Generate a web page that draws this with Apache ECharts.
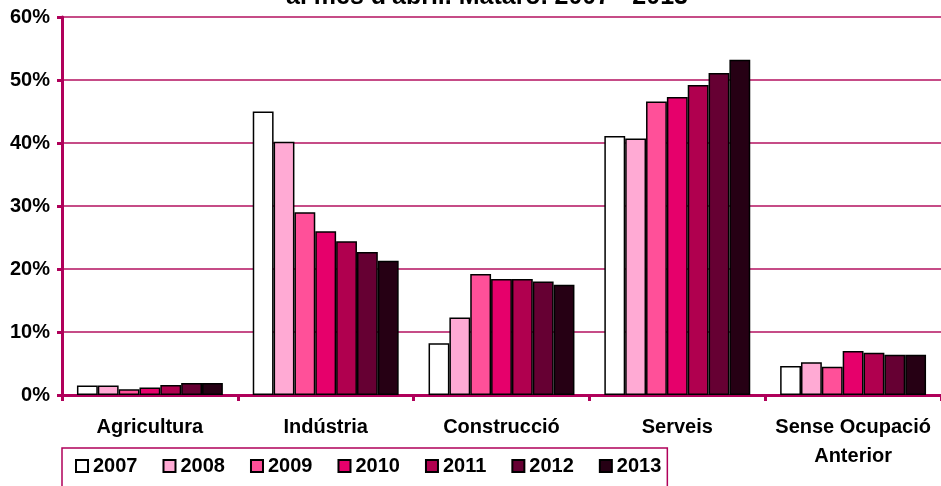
<!DOCTYPE html>
<html>
<head>
<meta charset="utf-8">
<script src="https://cdn.jsdelivr.net/npm/echarts@6/dist/echarts.min.js"></script>
<style>
  html, body { margin: 0; padding: 0; background: #fff; }
  #chart { width: 941px; height: 486px; }
</style>
</head>
<body>
<div id="chart"></div>
<script>
// sectors on the x axis
const sectors = ['Agricultura', 'Indústria', 'Construcció', 'Serveis', 'Sense Ocupació\nAnterior'];
const years = ['2007', '2008', '2009', '2010', '2011', '2012', '2013'];
const yTicks = [0, 10, 20, 30, 40, 50, 60];

// % share per sector, one array per year
const v2007 = [1.5, 45.0, 8.2, 41.1, 4.6];
const v2008 = [1.5, 40.2, 12.3, 40.7, 5.2];
const v2009 = [0.9, 29.0, 19.2, 46.6, 4.5];
const v2010 = [1.2, 26.0, 18.4, 47.3, 7.0];
const v2011 = [1.6, 24.4, 18.4, 49.2, 6.7];
const v2012 = [1.9, 22.7, 18.0, 51.1, 6.4];
const v2013 = [1.9, 21.3, 17.5, 53.2, 6.4];
const values = [v2007, v2008, v2009, v2010, v2011, v2012, v2013];

const yearColors = ['#ffffff', '#ffaad4', '#ff5099', '#e6006b', '#b0004f', '#660033', '#260014'];
const wine = '#b0005a';
const font = 'Liberation Sans';

const chart = echarts.init(document.getElementById('chart'));

chart.setOption({
  animation: false,
  backgroundColor: '#fff',
  // title sits mostly above the picture, only its bottom shows
  title: {
    text: "al mes d'abril. Mataró. 2007 - 2013",
    left: 281,
    top: -20,
    textStyle: { fontFamily: font, fontWeight: 'bold', fontSize: 25, color: '#000' }
  },
  grid: { left: 62, top: 17, width: 885, bottom: 91 },
  legend: {
    left: 62,
    top: 448,
    padding: [8, 6, 40, 13],
    itemGap: 25,
    itemWidth: 12,
    itemHeight: 12,
    icon: 'rect',
    borderColor: wine,
    borderWidth: 1.5,
    borderRadius: 0,
    textStyle: { fontFamily: font, fontWeight: 'bold', fontSize: 20, color: '#000' },
    data: years
  },
  xAxis: {
    type: 'category',
    data: sectors,
    axisLine: { lineStyle: { color: wine, width: 3 } },
    axisTick: { show: true, interval: 0, length: 6, lineStyle: { color: wine, width: 3 } },
    axisLabel: {
      interval: 0,
      fontFamily: font, fontWeight: 'bold', fontSize: 20, color: '#000',
      margin: 18, lineHeight: 29
    }
  },
  yAxis: {
    type: 'value',
    min: 0,
    max: 60,
    interval: 10,
    axisLine: { show: true, lineStyle: { color: wine, width: 3 } },
    axisTick: { show: true, length: 5, lineStyle: { color: wine, width: 3 } },
    axisLabel: {
      fontFamily: font, fontWeight: 'bold', fontSize: 20, color: '#000',
      margin: 12,
      formatter: v => yTicks.includes(v) ? v + '%' : ''
    },
    splitLine: { lineStyle: { color: '#b3105f', width: 1.5 } }
  },
  series: years.map((y, i) => ({
    name: y,
    type: 'bar',
    data: values[i],
    barGap: '0%',
    barCategoryGap: '17%',
    itemStyle: { color: yearColors[i], borderColor: '#000', borderWidth: 1.5 }
  }))
});
</script>
</body>
</html>
